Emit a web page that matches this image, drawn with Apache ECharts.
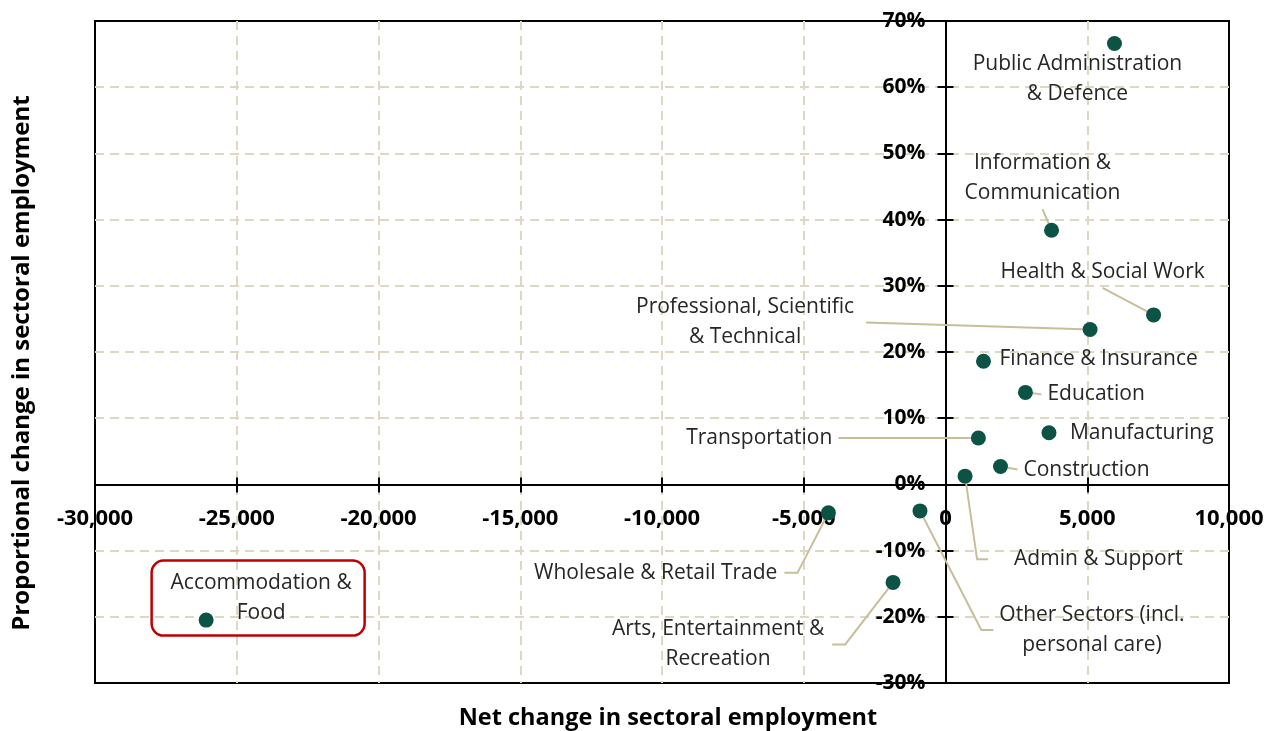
<!DOCTYPE html>
<html>
<head>
<meta charset="utf-8">
<script src="https://cdn.jsdelivr.net/npm/echarts@6/dist/echarts.min.js"></script>
<style>
  html, body { margin: 0; padding: 0; background: #fff; }
  #chart { width: 1279px; height: 731px; }
</style>
</head>
<body>
<div id="chart"></div>
<script>
// sector names (line breaks as shown on the chart)
const sectors = [
  'Public Administration\n& Defence',
  'Information &\nCommunication',
  'Health & Social Work',
  'Professional, Scientific\n& Technical',
  'Finance & Insurance',
  'Education',
  'Manufacturing',
  'Transportation',
  'Construction',
  'Admin & Support',
  'Wholesale & Retail Trade',
  'Other Sectors (incl.\npersonal care)',
  'Arts, Entertainment &\nRecreation',
  'Accommodation &\nFood'
];
// net change in sectoral employment
const netChange = [5960, 3740, 7340, 5100, 1340, 2820, 3650, 1160, 1940, 690, -4130, -900, -1850, -26080];
// proportional change in sectoral employment (%)
const propChange = [66.6, 38.4, 25.6, 23.4, 18.6, 13.9, 7.8, 7.0, 2.7, 1.25, -4.3, -4.0, -14.8, -20.5];

const xMin = -30000, xMax = 10000, xStep = 5000;
const yMin = -30, yMax = 70, yStep = 10;

// label placement (offset of the text anchor from the dot centre, px)
const placement = [
  { dx: -37,  dy: 36,  align: 'center', line: false },
  { dx: -9,   dy: -52, align: 'center', line: true, len2: 0, pad: [0, 0, 2, 0] },
  { dx: -51,  dy: -43, align: 'center', line: true, len2: 0, pad: [0, 0, 2, 0] },
  { dx: -345, dy: -7,  align: 'center', line: true, len2: 0, pad: [0, 12, 0, 12] },
  { dx: 16,   dy: -2,  align: 'left',   line: false },
  { dx: 16,   dy: 2,   align: 'left',   line: true, len2: 0, pad: [0, 0, 0, 6] },
  { dx: 21,   dy: 0,   align: 'left',   line: false },
  { dx: -140, dy: 0,   align: 'right',  line: true, len2: 0, pad: [0, 6, 0, 0] },
  { dx: 17,   dy: 3,   align: 'left',   line: true, len2: 0, pad: [0, 0, 0, 6] },
  { dx: 23,   dy: 83,  align: 'left',   line: true, len2: 11, pad: [0, 0, 0, 26] },
  { dx: -44,  dy: 60,  align: 'right',  line: true, len2: 13, pad: [0, 7, 0, 0] },
  { dx: 172,  dy: 119, align: 'center', line: true, len2: 12, pad: [0, 6, 0, 6] },
  { dx: -175, dy: 62,  align: 'center', line: true, len2: 13, pad: [0, 8, 0, 8] },
  { dx: 52,   dy: -22, align: 'center', line: false, boxed: true }
];

// plot area
const W = 1279, H = 731;
const gLeft = 95, gTop = 21, gRight = 50, gBottom = 48;
const plotW = W - gLeft - gRight, plotH = H - gTop - gBottom;
// axes cross at (0, 0%): shift them in from the grid edges
const yAxisShiftL = -plotW * (0 - xMin) / (xMax - xMin);
const yAxisShiftR = -plotW * (xMax - 0) / (xMax - xMin);
const xAxisShiftB = -plotH * (0 - yMin) / (yMax - yMin);
const xAxisShiftT = -plotH * (yMax - 0) / (yMax - yMin);

const chart = echarts.init(document.getElementById('chart'));

const gridDash = { color: '#dcd8c3', width: 2, type: [9, 6] };
const axisFont = { fontFamily: 'Open Sans', fontWeight: 'bold', color: '#000' };
const tickStyle = { color: '#000', width: 2 };

const data = sectors.map((name, i) => {
  const p = placement[i];
  const item = {
    name: name,
    value: [netChange[i], propChange[i]],
    label: { align: p.align, padding: p.pad || 0 },
    labelLine: { show: p.line, length2: p.len2 || 0 }
  };
  if (p.boxed) {
    item.label = {
      align: 'center',
      width: 187,
      height: 60,
      overflow: 'none',
      padding: [11, 10, 4, 16],
      borderColor: '#c00000',
      borderWidth: 2.5,
      borderRadius: 12
    };
  }
  return item;
});

const option = {
  animation: false,
  backgroundColor: '#fff',
  grid: {
    left: gLeft, top: gTop, right: gRight, bottom: gBottom,
    show: true, borderColor: '#000', borderWidth: 2,
    containLabel: false, outerBoundsMode: 'none'
  },
  xAxis: [
    {
      type: 'value', min: xMin, max: xMax, interval: xStep,
      position: 'bottom', offset: xAxisShiftB,
      axisLine: { onZero: false, lineStyle: { color: '#000', width: 2 } },
      axisTick: { show: true, length: 8, lineStyle: tickStyle },
      axisLabel: Object.assign({ margin: 23, fontSize: 22, hideOverlap: false,
        formatter: v => v.toLocaleString('en-US') }, axisFont),
      splitLine: { show: true, showMinLine: false, showMaxLine: false, lineStyle: gridDash },
      name: 'Net change in sectoral employment',
      nameLocation: 'middle', nameGap: 222, nameMoveOverlap: false,
      nameTextStyle: Object.assign({ fontSize: 23.5, padding: [0, 0, 0, 12] }, axisFont)
    },
    {
      type: 'value', min: xMin, max: xMax, interval: xStep,
      position: 'top', offset: xAxisShiftT,
      axisLine: { show: false, onZero: false },
      axisTick: { show: true, length: 7, lineStyle: tickStyle },
      axisLabel: { show: false },
      splitLine: { show: false }
    }
  ],
  yAxis: [
    {
      type: 'value', min: yMin, max: yMax, interval: yStep,
      position: 'left', offset: yAxisShiftL,
      axisLine: { onZero: false, lineStyle: { color: '#000', width: 2 } },
      axisTick: { show: true, length: 8, lineStyle: tickStyle },
      axisLabel: Object.assign({ margin: 20, fontSize: 21, hideOverlap: false,
        formatter: v => v + '%' }, axisFont),
      splitLine: { show: true, showMinLine: false, showMaxLine: false, lineStyle: gridDash },
      name: 'Proportional change in sectoral employment',
      nameLocation: 'middle', nameGap: 911, nameMoveOverlap: false,
      nameTextStyle: Object.assign({ fontSize: 24, padding: [0, 22, 0, 0] }, axisFont)
    },
    {
      type: 'value', min: yMin, max: yMax, interval: yStep,
      position: 'right', offset: yAxisShiftR,
      axisLine: { show: false, onZero: false },
      axisTick: { show: true, length: 8, lineStyle: tickStyle },
      axisLabel: { show: false },
      splitLine: { show: false }
    }
  ],
  series: [
    {
      type: 'scatter',
      xAxisIndex: 0,
      yAxisIndex: 0,
      symbolSize: 15,
      itemStyle: { color: '#0b5345', opacity: 1 },
      data: data,
      label: {
        show: true,
        formatter: '{b}',
        fontFamily: 'Open Sans',
        fontSize: 21,
        lineHeight: 30,
        color: '#262626'
      },
      labelLine: {
        show: true,
        lineStyle: { color: '#c7bf9a', width: 2 }
      },
      labelLayout: function (params) {
        const p = placement[params.dataIndex];
        return {
          x: params.rect.x + params.rect.width / 2 + p.dx,
          y: params.rect.y + params.rect.height / 2 + p.dy,
          align: p.align,
          verticalAlign: 'middle'
        };
      },
      emphasis: { disabled: true }
    }
  ]
};

chart.setOption(option);
</script>
</body>
</html>
